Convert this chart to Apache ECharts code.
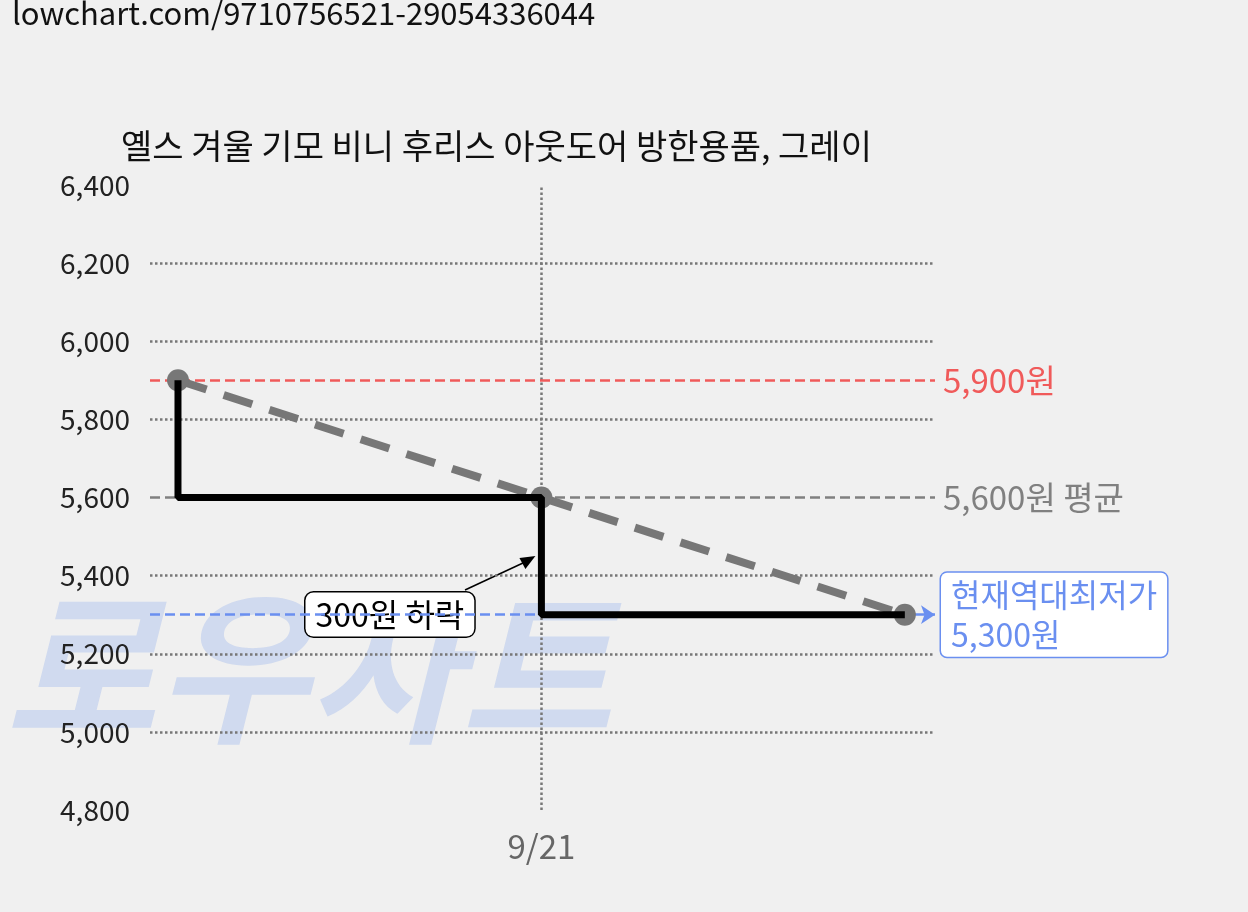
<!DOCTYPE html><html><head><meta charset="utf-8">
<script src="https://cdn.jsdelivr.net/npm/echarts@6/dist/echarts.min.js"></script>
<style>body{margin:0;background:#f0f0f0}#c{width:1248px;height:912px}</style></head><body><div id="c"></div>
<script>
const dates=['9/21'];
const xs=[0,1,2];
const prices=[5900,5600,5300];
const gridVals=[5000,5200,5400,5800,6000,6200];
const maxP=5900, avgP=5600, minP=5300;
const font='"Noto Sans CJK KR","Noto Sans",sans-serif';
const chart=echarts.init(document.getElementById('c'));
const pts=xs.map((x,i)=>[x,prices[i]]);
chart.setOption({
 backgroundColor:'#f0f0f0',animation:false,
 title:{text:'옐스 겨울 기모 비니 후리스 아웃도어 방한용품, 그레이',left:116,top:124,textStyle:{fontSize:34,fontWeight:'normal',color:'#111',fontFamily:font}},
 grid:{left:150,right:313,top:185,bottom:102},
 xAxis:{type:'value',min:-0.077,max:2.083,axisLine:{show:false},axisTick:{show:false},splitLine:{show:false},axisLabel:{show:false}},
 yAxis:{type:'value',min:4800,max:6400,interval:200,axisLine:{show:false},axisTick:{show:false},splitLine:{show:false},
  axisLabel:{fontSize:28,color:'#222',fontFamily:font,margin:20,formatter:v=>v.toLocaleString('en-US')}},
 graphic:[
  {type:'text',left:12,top:-2,style:{text:'lowchart.com/9710756521-29054336044',fontSize:31,fill:'#111',fontFamily:font}},
  {type:'text',left:5,top:585,z:-1,style:{text:'로우차트',fontSize:165,fontWeight:'bold',fontStyle:'italic',fill:'rgba(110,150,235,0.25)',fontFamily:font}}
 ],
 series:[
  {type:'line',data:[],z:1,markLine:{symbol:'none',silent:true,z:1,lineStyle:{type:'dotted',color:'#777',width:2.5},label:{show:false},
    data:gridVals.map(v=>({yAxis:v})).concat([{xAxis:1,label:{show:true,position:'start',formatter:dates[0],fontSize:33,color:'#666',fontFamily:font,distance:20}}])}},
  {type:'line',data:[],z:1,markLine:{symbol:'none',silent:true,z:1,
    data:[
     {yAxis:maxP,lineStyle:{type:'dashed',color:'#f05a5a',width:2.5},label:{formatter:'5,900원',position:'end',fontSize:33,color:'#f05a5a',fontFamily:font,distance:8}},
     {yAxis:avgP,lineStyle:{type:'dashed',color:'#808080',width:2.5},label:{formatter:'5,600원 평균',position:'end',fontSize:33,color:'#808080',fontFamily:font,distance:8}}
    ]}},
  {type:'line',data:[],z:1,markLine:{symbol:['none','arrow'],symbolSize:14,silent:true,z:1,
    data:[{yAxis:minP,lineStyle:{type:'dashed',color:'#6a8ff0',width:2.5},
      label:{formatter:'현재역대최저가\n5,300원',position:'end',fontSize:32,lineHeight:40,color:'#6a8ff0',fontFamily:font,distance:6,backgroundColor:'#fff',borderColor:'#6a8ff0',borderWidth:1.5,borderRadius:6,padding:[2,10,2,10],align:'left'}}]}},
  {type:'line',data:pts,lineStyle:{color:'#777',width:8,type:[30,18]},symbol:'circle',symbolSize:22,itemStyle:{color:'#777'},z:5},
  {type:'line',data:pts,step:'start',lineStyle:{color:'#000',width:7},symbol:'none',z:6}
 ]
});
const a=chart.convertToPixel({gridIndex:0},[1,5600]);
chart.setOption({graphic:[{},{},
 {type:'line',shape:{x1:465,y1:590,x2:a[0]-12,y2:560},style:{stroke:'#000',lineWidth:1.5}},
 {type:'polygon',shape:{points:[[a[0]-6,556],[a[0]-22,558],[a[0]-16,569]]},style:{fill:'#000'}},
 {type:'text',left:304,top:591,style:{text:'300원 하락',fontSize:32,fill:'#000',fontFamily:font,backgroundColor:'#fff',borderColor:'#000',borderWidth:1.5,borderRadius:8,padding:[6,10,6,10]}}
]});
</script></body></html>
